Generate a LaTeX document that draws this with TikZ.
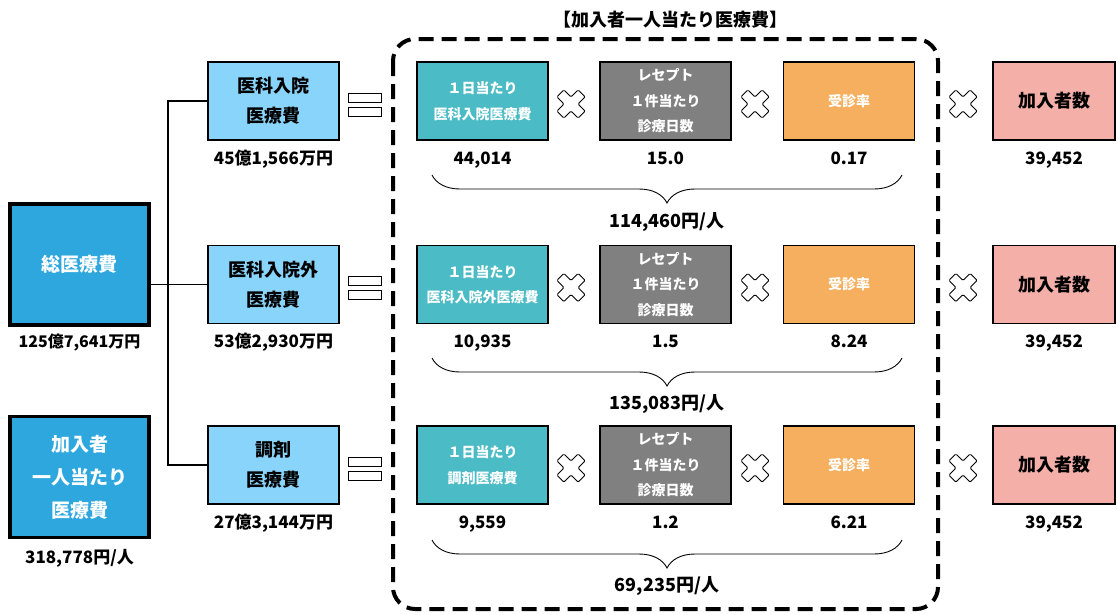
\documentclass[tikz,border=0pt]{standalone}
\usepackage{fontspec}
\setmainfont{Noto Sans CJK JP}
\usetikzlibrary{positioning,decorations.pathreplacing}
\definecolor{totalblue}{HTML}{2EA7DF}
\definecolor{costblue}{HTML}{89D4FB}
\definecolor{dayteal}{HTML}{4BBBC6}
\definecolor{daygray}{HTML}{808080}
\definecolor{rateorange}{HTML}{F5AF5F}
\definecolor{headpink}{HTML}{F4AFA9}
\tikzset{
	every label/.style={
		font=\bfseries\fontsize{17}{20}\selectfont,
		inner sep=0pt,
		text height=13pt,
		text depth=3pt
	},
	sumbox/.style={
		draw=black,
		line width=3.5pt,
		fill=totalblue,
		text=white,
		align=center,
		minimum width=139pt,
		minimum height=121pt,
		font=\bfseries\fontsize{19}{33}\selectfont
	},
	costbox/.style={
		draw=black,
		line width=1.6pt,
		fill=costblue,
		align=center,
		minimum width=131pt,
		minimum height=78pt,
		font=\bfseries\fontsize{18}{30}\selectfont
	},
	factor/.style={
		draw=black,
		line width=1.6pt,
		text=white,
		align=center,
		minimum width=131pt,
		minimum height=78pt,
		font=\bfseries\fontsize{14}{25.5}\selectfont
	},
	headbox/.style={
		draw=black,
		line width=1.6pt,
		fill=headpink,
		minimum width=122pt,
		minimum height=78pt,
		font=\bfseries\fontsize{18}{20}\selectfont
	},
	wire/.style={line width=1.6pt},
	curly/.style={
		decorate,
		decoration={brace, mirror, amplitude=28pt},
		line width=0.9pt
	},
	avgval/.style={font=\bfseries\fontsize{18}{20}\selectfont},
	timesmark/.pic={
		\draw [fill=white, line width=0.9pt, rounded corners=1.2pt, rotate=45]
		(-5,-15) -- (5,-15) -- (5,-5) -- (15,-5) -- (15,5) -- (5,5)
		-- (5,15) -- (-5,15) -- (-5,5) -- (-15,5) -- (-15,-5) -- (-5,-5) -- cycle;
	},
	equalmark/.pic={
		\draw [fill=white, line width=0.9pt] (-16.5,-11.5) rectangle (16.5,-2.5);
		\draw [fill=white, line width=0.9pt] (-16.5,2.5) rectangle (16.5,11.5);
	}
}

\begin{document}
\begin{tikzpicture}[x=1pt,y=-1pt,label distance=10pt]
  \useasboundingbox (0,0) rectangle (1118,614);

  % left column
  \node [sumbox] (total) at (79.5,264.5) [label={[label distance=8pt,font=\bfseries\fontsize{16}{18}\selectfont]below:125億7,641万円}] {総医療費};
  \node [sumbox] (perhead) at (79.5,477) [label={[label distance=11pt]below:318,778円/人}] {加入者\\一人当たり\\医療費};

  % cost boxes
  \node [costbox] (inpat) at (273.5,101) [label={below:45億1,566万円}] {医科入院\\医療費};
  \node [costbox] (outpat) at (273.5,284.5) [label={below:53億2,930万円}] {医科入院外\\医療費};
  \node [costbox] (dispense) at (273.5,465) [label={below:27億3,144万円}] {調剤\\医療費};

  \coordinate (split) at (168,284.5);
  \draw [wire] (total.east |- split) -- (outpat.west);
  \draw [wire] (inpat.west) -| (split) |- (dispense.west);

  \pic at (364.5,104.5) {equalmark};
  \pic at (364.5,288) {equalmark};
  \pic at (364.5,468.5) {equalmark};

  % frame and title
  \draw [line width=4pt, dash pattern=on 15pt off 8pt, rounded corners=22pt] (393,39) rectangle (938,609);
  \node [avgval] (title) at (670,20) {【加入者一人当たり医療費】};

  % row 1
  \node [factor, fill=dayteal] (day1) at (482.5,101) [label={below:44,014}] {１日当たり\\医科入院医療費};
  \node [factor, fill=daygray] (cnt1) at (665.5,101) [label={below:15.0}] {レセプト\\１件当たり\\診療日数};
  \node [factor, fill=rateorange] (rate1) at (849,101) [label={below:0.17}] {受診率};
  \node [headbox] (head1) at (1054,101) [label={below:39,452}] {加入者数};
  \pic at (571,104) {timesmark};
  \pic at (755,104) {timesmark};
  \pic at (963,104) {timesmark};
  \coordinate (br1w) at (432,175);
  \coordinate (br1e) at (902,175);
  \draw [curly] (br1w) -- (br1e);
  \node [avgval] (avg1) at (667,222) {114,460円/人};

  % row 2
  \node [factor, fill=dayteal] (day2) at (482.5,284.5) [label={below:10,935}] {１日当たり\\医科入院外医療費};
  \node [factor, fill=daygray] (cnt2) at (665.5,284.5) [label={below:1.5}] {レセプト\\１件当たり\\診療日数};
  \node [factor, fill=rateorange] (rate2) at (849,284.5) [label={below:8.24}] {受診率};
  \node [headbox] (head2) at (1054,284.5) [label={below:39,452}] {加入者数};
  \pic at (571,287.5) {timesmark};
  \pic at (755,287.5) {timesmark};
  \pic at (963,287.5) {timesmark};
  \coordinate (br2w) at (432,358);
  \coordinate (br2e) at (902,358);
  \draw [curly] (br2w) -- (br2e);
  \node [avgval] (avg2) at (667,404) {135,083円/人};

  % row 3
  \node [factor, fill=dayteal] (day3) at (482.5,465) [label={below:9,559}] {１日当たり\\調剤医療費};
  \node [factor, fill=daygray] (cnt3) at (665.5,465) [label={below:1.2}] {レセプト\\１件当たり\\診療日数};
  \node [factor, fill=rateorange] (rate3) at (849,465) [label={below:6.21}] {受診率};
  \node [headbox] (head3) at (1054,465) [label={below:39,452}] {加入者数};
  \pic at (571,468) {timesmark};
  \pic at (755,468) {timesmark};
  \pic at (963,468) {timesmark};
  \coordinate (br3w) at (432,540);
  \coordinate (br3e) at (902,540);
  \draw [curly] (br3w) -- (br3e);
  \node [avgval] (avg3) at (667,586) {69,235円/人};
\end{tikzpicture}
\end{document}
